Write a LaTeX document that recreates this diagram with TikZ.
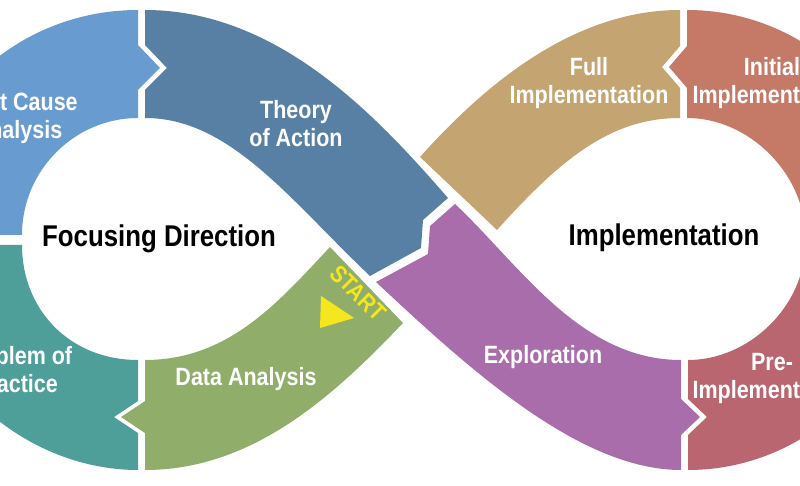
\documentclass[tikz,border=0pt]{standalone}
\usepackage{fontspec}
\setmainfont{Liberation Sans}[FakeStretch=0.86]
\definecolor{cRoot}{RGB}{104,155,207}
\definecolor{cTheory}{RGB}{88,128,165}
\definecolor{cData}{RGB}{144,174,106}
\definecolor{cProb}{RGB}{78,158,154}
\definecolor{cFull}{RGB}{196,164,112}
\definecolor{cInit}{RGB}{196,122,103}
\definecolor{cPre}{RGB}{186,102,112}
\definecolor{cExpl}{RGB}{168,109,170}
\definecolor{cStart}{RGB}{245,230,30}
\tikzset{
 seglabel/.style={text=white,font=\bfseries\fontsize{25}{28}\selectfont,align=center},
 biglabel/.style={text=black,font=\bfseries\fontsize{30}{34}\selectfont},
}
\begin{document}
\begin{tikzpicture}[x=1pt,y=-1pt]
\useasboundingbox (0,0) rectangle (800,486);
\begin{scope}
\clip (0,0) rectangle (800,486);
% left loop
\fill[cRoot] (-90,235) .. controls (-90,110) and (12,10) .. (138,10) -- (138,45) -- (160,68) -- (138,90) -- (138,118) .. controls (75,118) and (22,170) .. (22,235) -- cycle;
\fill[cProb] (-90,245) .. controls (-90,370) and (20,470) .. (138,470) -- (138,433) -- (114,417) -- (138,401) -- (138,360) .. controls (70,360) and (22,310) .. (22,245) -- cycle;
\fill[cTheory] (145,10) .. controls (280,10) and (380,120) .. (448,198) -- (423,220) -- (421,248) -- (370,276) .. controls (290,200) and (230,118) .. (145,118) -- (145,90) -- (167,68) -- (145,45) -- cycle;
\fill[cData] (330,247) -- (403,323) .. controls (330,400) and (250,470) .. (145,470) -- (145,433) -- (121,417) -- (145,401) -- (145,360) .. controls (230,360) and (280,300) .. (330,247) -- cycle;
% right loop
\fill[cFull] (420,157) .. controls (480,90) and (570,10) .. (680,10) -- (680,46) -- (662,67) -- (680,88) -- (680,118) .. controls (610,118) and (560,160) .. (497,230) -- cycle;
\fill[cInit] (687,10) .. controls (810,10) and (910,110) .. (910,235) -- (805,235) .. controls (805,175) and (750,118) .. (687,118) -- (687,88) -- (669,67) -- (687,46) -- cycle;
\fill[cPre] (910,245) .. controls (910,370) and (810,470) .. (688,470) -- (688,435) -- (707,417) -- (688,399) -- (688,360) .. controls (750,360) and (805,305) .. (805,245) -- cycle;
\fill[cExpl] (376,282) -- (428,254) -- (430,226) -- (455,204) .. controls (520,265) and (580,360) .. (681,360) -- (681,399) -- (700,417) -- (681,435) -- (681,470) .. controls (580,470) and (470,370) .. (376,282) -- cycle;
% start marker
\fill[cStart] (321,296) -- (354,318) -- (320,328) -- cycle;
\node[text=cStart,font=\bfseries\fontsize{24}{26}\selectfont,rotate=-45] (start) at (358,293) {START};
% labels
\node[seglabel] (root) at (18,118) {Root Cause\\Analysis};
\node[seglabel] (theory) at (296,124) {Theory\\of Action};
\node[seglabel] (prob) at (16,370) {Problem of\\Practice};
\node[seglabel] (data) at (246,379) {Data Analysis};
\node[seglabel] (full) at (589,83) {Full\\Implementation};
\node[seglabel] (init) at (772,83) {Initial\\Implementation};
\node[seglabel] (expl) at (543,357) {Exploration};
\node[seglabel] (pre) at (772,378) {Pre-\\Implementation};
\end{scope}
\node[biglabel] (focus) at (159,239) {Focusing Direction};
\node[biglabel] (impl) at (664,238) {Implementation};
\end{tikzpicture}
\end{document}
